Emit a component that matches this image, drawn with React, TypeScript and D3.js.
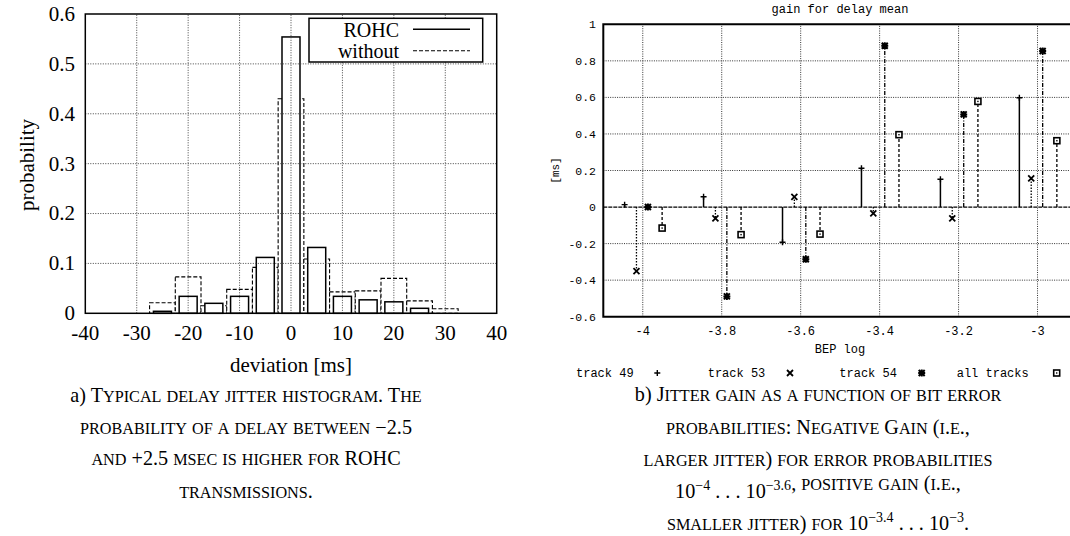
import { useEffect, useRef } from 'react';
import * as d3 from 'd3';

// a) delay jitter histogram
const binCenters = [-25, -20, -15, -10, -5, 0, 5, 10, 15, 20, 25, 30];
const rohcProb = [0.004, 0.034, 0.02, 0.034, 0.112, 0.554, 0.132, 0.034, 0.027, 0.023, 0.01, 0];
const withoutProb = [0.021, 0.073, 0.015, 0.048, 0.092, 0.43, 0.109, 0.043, 0.045, 0.07, 0.025, 0.009];
const devTicks = [-40, -30, -20, -10, 0, 10, 20, 30, 40];
const probTicks = [0, 0.1, 0.2, 0.3, 0.4, 0.5, 0.6];

// b) jitter gain vs bit error probability
const bepLog = [-4, -3.8, -3.6, -3.4, -3.2, -3];
const track49 = [0.013, 0.056, -0.193, 0.212, 0.152, 0.598];
const track53 = [-0.35, -0.062, 0.056, -0.035, -0.062, 0.157];
const track54 = [0.0, -0.489, -0.286, 0.883, 0.507, 0.854];
const allTracks = [-0.115, -0.151, -0.148, 0.396, 0.578, 0.363];
const seriesNames = ['track 49', 'track 53', 'track 54', 'all tracks'];
const seriesShift = [-0.046, -0.016, 0.013, 0.049];
const gainTicks = [-0.6, -0.4, -0.2, 0, 0.2, 0.4, 0.6, 0.8, 1];
const bepTicks = [-4, -3.8, -3.6, -3.4, -3.2, -3];

const SERIF = '"Liberation Serif", "Times New Roman", serif';
const MONO = '"Liberation Mono", "DejaVu Sans Mono", monospace';

const fmt = (v: number) => String(Math.round(v * 10) / 10);

type Marker = 'plus' | 'cross' | 'star' | 'box';
const markers: Marker[] = ['plus', 'cross', 'star', 'box'];
const stemDash = [null, '1.5,1.5', '4,1.5,1,1.5', '3,2'];

function drawMarker(g: any, type: Marker, x: number, y: number) {
  const m = g.append('g').attr('transform', `translate(${x},${y})`).attr('stroke', '#000').attr('fill', 'none');
  if (type === 'plus') {
    m.append('path').attr('d', 'M-3,0H3M0,-3V3').attr('stroke-width', 1.4);
  } else if (type === 'cross') {
    m.append('path').attr('d', 'M-3,-3L3,3M-3,3L3,-3').attr('stroke-width', 1.8);
  } else if (type === 'star') {
    m.append('path').attr('d', 'M-3.5,0H3.5M0,-3.5V3.5M-3,-3L3,3M-3,3L3,-3').attr('stroke-width', 2);
  } else {
    m.append('rect').attr('x', -3).attr('y', -3).attr('width', 6).attr('height', 6).attr('fill', '#fff').attr('stroke-width', 1.6);
    m.append('rect').attr('x', -0.7).attr('y', -0.7).attr('width', 1.4).attr('height', 1.4).attr('fill', '#000').attr('stroke', 'none');
  }
}

const CAP = 20.2;
const SMALL = 16.2;

export default function App() {
  const svgRef = useRef<SVGSVGElement>(null);

  useEffect(() => {
    if (!svgRef.current) return;
    const svg = d3.select(svgRef.current);
    svg.selectAll('*').remove();

    // ---------- left: histogram ----------
    const x = d3.scaleLinear().domain([-40, 40]).range([85.3, 496.7]);
    const y = d3.scaleLinear().domain([0, 0.6]).range([313.3, 14]);
    const left = svg.append('g');
    const boxW = 5;
    const rohcW = 3.5;

    left.selectAll('.without')
      .data(binCenters.map((c, i) => ({ c, v: withoutProb[i] })).filter(d => d.v > 0))
      .enter()
      .append('rect')
      .attr('x', d => x(d.c - boxW / 2))
      .attr('y', d => y(d.v))
      .attr('width', x(boxW) - x(0))
      .attr('height', d => y(0) - y(d.v))
      .attr('fill', '#fff')
      .attr('stroke', '#000')
      .attr('stroke-width', 1.1)
      .attr('stroke-dasharray', '4,2');

    left.selectAll('.rohc')
      .data(binCenters.map((c, i) => ({ c, v: rohcProb[i] })).filter(d => d.v > 0))
      .enter()
      .append('rect')
      .attr('x', d => x(d.c - rohcW / 2))
      .attr('y', d => y(d.v))
      .attr('width', x(rohcW) - x(0))
      .attr('height', d => y(0) - y(d.v))
      .attr('fill', '#fff')
      .attr('stroke', '#000')
      .attr('stroke-width', 1.5);

    // grid in front of the boxes
    devTicks.slice(1, -1).forEach(t => {
      left.append('line')
        .attr('x1', x(t)).attr('x2', x(t)).attr('y1', y(0)).attr('y2', y(0.6))
        .attr('stroke', '#444').attr('stroke-dasharray', '1,1.5');
    });
    probTicks.slice(1, -1).forEach(t => {
      left.append('line')
        .attr('x1', x(-40)).attr('x2', x(40)).attr('y1', y(t)).attr('y2', y(t))
        .attr('stroke', '#444').attr('stroke-dasharray', '1,1.5');
    });

    left.append('rect')
      .attr('x', x(-40)).attr('y', y(0.6))
      .attr('width', x(40) - x(-40)).attr('height', y(0) - y(0.6))
      .attr('fill', 'none').attr('stroke', '#000').attr('stroke-width', 1.5);

    devTicks.forEach(t => {
      left.append('text')
        .attr('x', x(t)).attr('y', 340)
        .attr('text-anchor', 'middle')
        .attr('font-family', SERIF).attr('font-size', 21)
        .text(String(t));
    });
    probTicks.forEach(t => {
      left.append('text')
        .attr('x', 75).attr('y', y(t)).attr('dy', '0.33em')
        .attr('text-anchor', 'end')
        .attr('font-family', SERIF).attr('font-size', 21)
        .text(fmt(t));
    });
    left.append('text')
      .attr('transform', 'translate(34,165) rotate(-90)')
      .attr('text-anchor', 'middle')
      .attr('font-family', SERIF).attr('font-size', 21)
      .text('probability');
    left.append('text')
      .attr('x', 291).attr('y', 372)
      .attr('text-anchor', 'middle')
      .attr('font-family', SERIF).attr('font-size', 21)
      .text('deviation [ms]');

    // legend
    const lg = left.append('g');
    lg.append('rect').attr('x', 309).attr('y', 18.3).attr('width', 173.7).attr('height', 43.7)
      .attr('fill', '#fff').attr('stroke', '#000').attr('stroke-width', 1.5);
    lg.append('text').attr('x', 399).attr('y', 36.5).attr('text-anchor', 'end')
      .attr('font-family', SERIF).attr('font-size', 20).text('ROHC');
    lg.append('text').attr('x', 399).attr('y', 58).attr('text-anchor', 'end')
      .attr('font-family', SERIF).attr('font-size', 20).text('without');
    lg.append('line').attr('x1', 413).attr('x2', 470).attr('y1', 29.3).attr('y2', 29.3)
      .attr('stroke', '#000').attr('stroke-width', 1.5);
    lg.append('line').attr('x1', 413).attr('x2', 470).attr('y1', 50.7).attr('y2', 50.7)
      .attr('stroke', '#000').attr('stroke-width', 1.1).attr('stroke-dasharray', '4,2');

    // ---------- right: jitter gain ----------
    const bx = d3.scaleLinear().domain([-4.1, -2.9]).range([603.3, 1077]);
    const gy = d3.scaleLinear().domain([-0.6, 1]).range([316.7, 24.3]);
    const right = svg.append('g');

    bepTicks.forEach(t => {
      right.append('line')
        .attr('x1', bx(t)).attr('x2', bx(t)).attr('y1', gy(-0.6)).attr('y2', gy(1))
        .attr('stroke', '#333').attr('stroke-dasharray', '1,1.3');
    });
    gainTicks.filter(t => t !== -0.6 && t !== 1 && t !== 0).forEach(t => {
      right.append('line')
        .attr('x1', bx(-4.1)).attr('x2', bx(-2.9)).attr('y1', gy(t)).attr('y2', gy(t))
        .attr('stroke', '#333').attr('stroke-dasharray', '1,1.3');
    });
    right.append('line')
      .attr('x1', bx(-4.1)).attr('x2', bx(-2.9)).attr('y1', gy(0)).attr('y2', gy(0))
      .attr('stroke', '#000').attr('stroke-width', 1.2).attr('stroke-dasharray', '4,1');

    const series = [track49, track53, track54, allTracks];
    series.forEach((vals, si) => {
      vals.forEach((v, i) => {
        const px = bx(bepLog[i] + seriesShift[si]);
        const stem = right.append('line')
          .attr('x1', px).attr('x2', px).attr('y1', gy(0)).attr('y2', gy(v))
          .attr('stroke', '#000').attr('stroke-width', si === 0 ? 1.5 : 1.3);
        if (stemDash[si]) stem.attr('stroke-dasharray', stemDash[si]);
        drawMarker(right, markers[si], px, gy(v));
      });
    });

    right.append('path')
      .attr('d', `M${bx(-2.9)},${gy(1)}H${bx(-4.1)}V${gy(-0.6)}H${bx(-2.9)}`)
      .attr('fill', 'none').attr('stroke', '#000').attr('stroke-width', 2);

    gainTicks.forEach(t => {
      right.append('text')
        .attr('x', 596).attr('y', gy(t)).attr('dy', '0.35em')
        .attr('text-anchor', 'end')
        .attr('font-family', MONO).attr('font-size', 11.5)
        .text(fmt(t));
    });
    bepTicks.forEach(t => {
      right.append('text')
        .attr('x', bx(t)).attr('y', 335)
        .attr('text-anchor', 'middle')
        .attr('font-family', MONO).attr('font-size', 12)
        .text(fmt(t));
    });
    right.append('text')
      .attr('x', 840).attr('y', 12.5).attr('text-anchor', 'middle')
      .attr('font-family', MONO).attr('font-size', 12)
      .text('gain for delay mean');
    right.append('text')
      .attr('x', 840).attr('y', 353).attr('text-anchor', 'middle')
      .attr('font-family', MONO).attr('font-size', 12)
      .text('BEP log');
    right.append('text')
      .attr('transform', 'translate(559,170.5) rotate(-90)')
      .attr('text-anchor', 'middle')
      .attr('font-family', MONO).attr('font-size', 11)
      .text('[ms]');

    const legendX = [576, 707.7, 839.3, 956.7];
    const legendMarkX = [657.3, 790, 921.7, 1056.7];
    seriesNames.forEach((name, si) => {
      right.append('text')
        .attr('x', legendX[si]).attr('y', 377)
        .attr('font-family', MONO).attr('font-size', 12)
        .text(name);
      drawMarker(right, markers[si], legendMarkX[si], 373);
    });

    // ---------- captions (small caps built by hand) ----------
    const addLine = (cx: number, yy: number, parts: [string, string][]) => {
      const t = svg.append('text')
        .attr('x', cx).attr('y', yy).attr('text-anchor', 'middle')
        .attr('font-family', SERIF).attr('font-size', CAP);
      parts.forEach(([kind, str]) => {
        if (kind === 'sc') {
          const runs: { lower: boolean; s: string }[] = [];
          for (const ch of str) {
            const lower = ch !== ch.toUpperCase();
            const last = runs[runs.length - 1];
            if (last && last.lower === lower) last.s += ch;
            else runs.push({ lower, s: ch });
          }
          runs.forEach(r => {
            t.append('tspan')
              .attr('font-size', r.lower ? SMALL : CAP)
              .text(r.lower ? r.s.toUpperCase() : r.s);
          });
          return;
        }
        const sp = t.append('tspan').text(str);
        if (kind === 'sup') sp.attr('font-size', 14).attr('dy', -8);
        if (kind === 'down') sp.attr('dy', 8);
      });
    };

    addLine(246, 402, [['n', 'a) '], ['sc', 'Typical delay jitter histogram. The']]);
    addLine(246, 434, [['sc', 'probability of a delay between '], ['n', '\u22122.5']]);
    addLine(246, 465, [['sc', 'and '], ['n', '+2.5'], ['sc', ' msec is higher for '], ['n', 'ROHC']]);
    addLine(246, 498, [['sc', 'transmissions.']]);

    addLine(818, 401, [['n', 'b) '], ['sc', 'Jitter gain as a function of bit error']]);
    addLine(818, 434, [['sc', 'probabilities: Negative Gain (i.e.,']]);
    addLine(818, 466, [['sc', 'larger jitter) for error probabilities']]);
    addLine(818, 498, [
      ['n', '10'], ['sup', '\u22124'], ['down', ' . . . 10'], ['sup', '\u22123.6'],
      ['down', ''], ['sc', ', positive gain (i.e.,'],
    ]);
    addLine(818, 530, [
      ['sc', 'smaller jitter) for '], ['n', '10'], ['sup', '\u22123.4'], ['down', ' . . . 10'],
      ['sup', '\u22123'], ['down', '.'],
    ]);
  }, []);

  return (
    <svg
      ref={svgRef}
      width={1070}
      height={536}
      style={{ position: 'absolute', left: 0, top: 0, background: '#fff' }}
    />
  );
}
